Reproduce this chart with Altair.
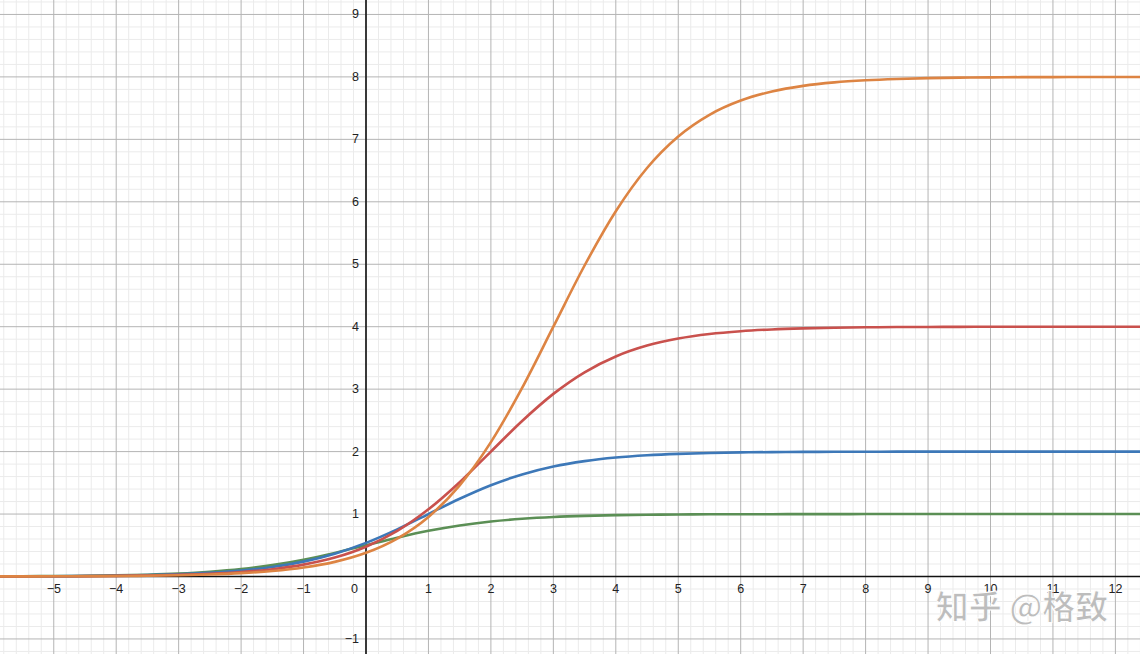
import altair as alt
import numpy as np
import pandas as pd

# sample positions along x
xs = [-6.0, -5.5, -5.0, -4.5, -4.0, -3.5, -3.0, -2.5, -2.0, -1.5, -1.0, -0.5,
      0.0, 0.5, 1.0, 1.5, 2.0, 2.5, 3.0, 3.5, 4.0, 4.5, 5.0, 5.5, 6.0, 6.5,
      7.0, 7.5, 8.0, 8.5, 9.0, 9.5, 10.0, 10.5, 11.0, 11.5, 12.0, 12.5]

green = [0.002, 0.004, 0.007, 0.011, 0.018, 0.029, 0.047, 0.076, 0.119, 0.182, 0.269, 0.378,
         0.500, 0.622, 0.731, 0.818, 0.881, 0.924, 0.953, 0.971, 0.982, 0.989, 0.993, 0.996,
         0.998, 0.998, 0.999, 0.999, 1.000, 1.000, 1.000, 1.000, 1.000, 1.000, 1.000, 1.000,
         1.000, 1.000]
blue = [0.002, 0.003, 0.005, 0.008, 0.013, 0.022, 0.036, 0.059, 0.095, 0.152, 0.238, 0.365,
        0.538, 0.755, 1.000, 1.245, 1.462, 1.635, 1.762, 1.848, 1.905, 1.941, 1.964, 1.978,
        1.987, 1.992, 1.995, 1.997, 1.998, 1.999, 1.999, 2.000, 2.000, 2.000, 2.000, 2.000,
        2.000, 2.000]
red = [0.001, 0.002, 0.004, 0.006, 0.010, 0.016, 0.027, 0.044, 0.072, 0.117, 0.190, 0.303,
       0.477, 0.730, 1.076, 1.510, 2.000, 2.490, 2.924, 3.270, 3.523, 3.697, 3.810, 3.883,
       3.928, 3.956, 3.973, 3.984, 3.990, 3.994, 3.996, 3.998, 3.999, 3.999, 4.000, 4.000,
       4.000, 4.000]
orange = [0.001, 0.002, 0.003, 0.004, 0.007, 0.012, 0.020, 0.033, 0.054, 0.088, 0.144, 0.234,
          0.379, 0.607, 0.954, 1.459, 2.151, 3.020, 4.000, 4.980, 5.849, 6.541, 7.046, 7.393,
          7.621, 7.766, 7.856, 7.912, 7.946, 7.967, 7.980, 7.988, 7.993, 7.996, 7.997, 7.998,
          7.999, 7.999]

series = [("green", green, "#5b8f55"), ("blue", blue, "#3d78b8"),
          ("red", red, "#c9514d"), ("orange", orange, "#dd8443")]

x_ticks = [-5, -4, -3, -2, -1, 1, 2, 3, 4, 5, 6, 7, 8, 9, 10, 11, 12]
y_ticks = [-1, 1, 2, 3, 4, 5, 6, 7, 8, 9]

W, H = 1140, 654
x_dom = [-366 / 62.45, (W - 366) / 62.45]
y_dom = [-(H - 576.5) / 62.45, 576.5 / 62.45]

xs_scale = alt.Scale(domain=x_dom, nice=False, zero=False)
ys_scale = alt.Scale(domain=y_dom, nice=False, zero=False)

def minus(v):
    return str(v).replace("-", "\u2212")

# grid lines
minor_x = [round(v, 1) for v in np.arange(-5.8, 12.41, 0.2) if abs(v - round(v)) > 1e-6]
minor_y = [round(v, 1) for v in np.arange(-1.2, 9.21, 0.2) if abs(v - round(v)) > 1e-6]
major_x = list(range(-5, 13))
major_y = list(range(-1, 10))

def vrules(vals, color, w):
    return alt.Chart(pd.DataFrame({"x": vals})).mark_rule(color=color, strokeWidth=w).encode(
        x=alt.X("x:Q", scale=xs_scale, axis=None))

def hrules(vals, color, w):
    return alt.Chart(pd.DataFrame({"y": vals})).mark_rule(color=color, strokeWidth=w).encode(
        y=alt.Y("y:Q", scale=ys_scale, axis=None))

layers = [
    vrules(minor_x, "#ebebeb", 1), hrules(minor_y, "#ebebeb", 1),
    vrules(major_x, "#b4b4b4", 1), hrules(major_y, "#b4b4b4", 1),
    vrules([0], "#111111", 1.6), hrules([0], "#111111", 1.6),
]

# curves
for name, vals, color in series:
    df = pd.DataFrame({"x": xs, "y": vals})
    layers.append(
        alt.Chart(df).mark_line(color=color, strokeWidth=2.6, interpolate="monotone", clip=True).encode(
            x=alt.X("x:Q", scale=xs_scale, axis=None),
            y=alt.Y("y:Q", scale=ys_scale, axis=None),
        )
    )

# tick labels
xl = pd.DataFrame({"x": x_ticks, "y": [0] * len(x_ticks), "t": [minus(v) for v in x_ticks]})
layers.append(
    alt.Chart(xl).mark_text(fontSize=12.5, font="Liberation Sans", color="#222222",
                            align="center", baseline="middle", dy=12).encode(
        x=alt.X("x:Q", scale=xs_scale, axis=None),
        y=alt.Y("y:Q", scale=ys_scale, axis=None),
        text="t:N")
)
yl = pd.DataFrame({"x": [0] * len(y_ticks), "y": y_ticks, "t": [minus(v) for v in y_ticks]})
layers.append(
    alt.Chart(yl).mark_text(fontSize=12.5, font="Liberation Sans", color="#222222",
                            align="right", baseline="middle", dx=-7).encode(
        x=alt.X("x:Q", scale=xs_scale, axis=None),
        y=alt.Y("y:Q", scale=ys_scale, axis=None),
        text="t:N")
)
zl = pd.DataFrame({"x": [0], "y": [0], "t": ["0"]})
layers.append(
    alt.Chart(zl).mark_text(fontSize=12.5, font="Liberation Sans", color="#222222",
                            align="right", baseline="middle", dx=-8, dy=12).encode(
        x=alt.X("x:Q", scale=xs_scale, axis=None),
        y=alt.Y("y:Q", scale=ys_scale, axis=None),
        text="t:N")
)

# watermark
wm = pd.DataFrame({"t": ["知乎 @格致"]})
layers.append(
    alt.Chart(wm).mark_text(fontSize=33, font="Noto Sans CJK SC", fontWeight="bold",
                            color="#bdbdbd", stroke="white", strokeWidth=1,
                            align="center", baseline="middle").encode(
        x=alt.value(1022), y=alt.value(609), text="t:N")
)

chart = alt.layer(*layers).properties(
    width=W, height=H, padding=0, autosize=alt.AutoSizeParams(type="none"),
    background="white",
).configure_view(stroke=None)

chart.save("out.html", embed_options={"renderer": "svg", "actions": False})
